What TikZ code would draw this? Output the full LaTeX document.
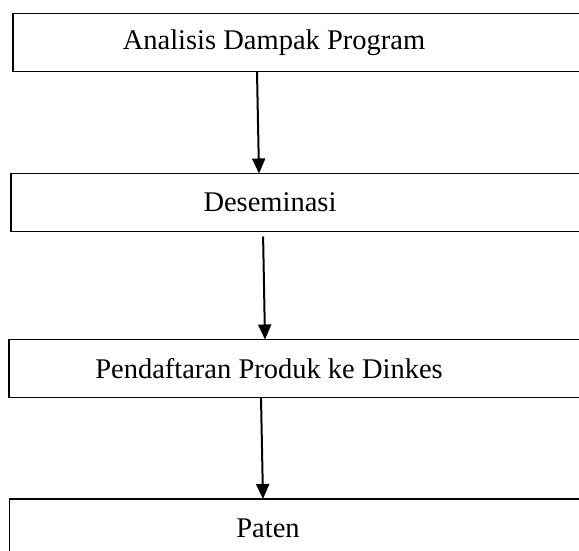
\documentclass[tikz,border=0pt]{standalone}
\usepackage{fontspec}
\setmainfont{Liberation Serif}
\usetikzlibrary{arrows.meta,calc}

\begin{document}
\begin{tikzpicture}[
    x=1pt, y=-1pt,
    stagebox/.style={draw, line width=1.8pt, rectangle, minimum width=600pt, minimum height=58pt, anchor=north west, outer sep=0pt, inner sep=0pt},
    stagetext/.style={font=\fontsize{28.5pt}{34pt}\selectfont, anchor=center, inner sep=0pt},
    flow/.style={-{Triangle[length=15pt, width=13pt]}, line width=2pt}
]
\useasboundingbox (0,0) rectangle (579,551);
\clip (0,0) rectangle (579,551);

% boxes, running off the right edge
\node[stagebox] (b1) at (13,13.5) {};
\node[stagebox] (b2) at (11,173.5) {};
\node[stagebox] (b3) at (9,339.5) {};
\node[stagebox] (b4) at (9.5,499) {};

\node[stagetext] (t1) at ($(b1.west)+(261,0)$) {Analisis Dampak Program};
\node[stagetext] (t2) at ($(b2.west)+(259,0)$) {Deseminasi};
\node[stagetext] (t3) at ($(b3.west)+(260,0)$) {Pendaftaran Produk ke Dinkes};
\node[stagetext] (t4) at ($(b4.north west)+(258.5,29)$) {Paten};

\draw[flow] ([xshift=244pt]b1.south west) -- ([xshift=248pt]b2.north west);
\draw[flow, shorten <=5pt] ([xshift=252pt]b2.south west) -- ([xshift=256pt]b3.north west);
\draw[flow] ([xshift=252pt]b3.south west) -- ([xshift=253.5pt]b4.north west);
\end{tikzpicture}
\end{document}
